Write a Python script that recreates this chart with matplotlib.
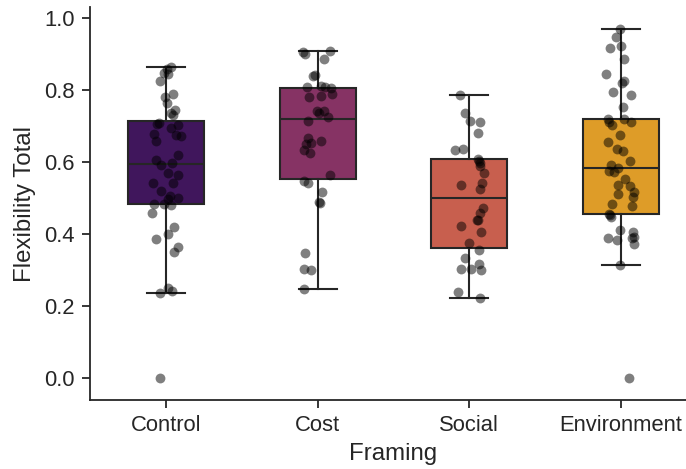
import colorsys
import numpy as np
import matplotlib
matplotlib.use("Agg")
import matplotlib.pyplot as plt

categories = ["Control", "Cost", "Social", "Environment"]

control_vals = [0.863, 0.857, 0.846, 0.844, 0.825, 0.781, 0.789, 0.763, 0.744, 0.62,
                0.735, 0.730, 0.709, 0.706, 0.694, 0.703, 0.678, 0.657, 0.675, 0.672,
                0.605, 0.598, 0.592, 0.569, 0.564, 0.541, 0.541, 0.521, 0.506, 0.500,
                0.497, 0.484, 0.481, 0.484, 0.458, 0.419, 0.401, 0.387, 0.364, 0.350,
                0.238, 0.250, 0.241, 0.0]
control_dx = [0.031, 0.009, -0.011, 0.015, -0.042, -0.007, 0.048, 0.007, 0.059, 0.077,
              0.037, 0.048, -0.046, -0.059, 0.033, 0.077, -0.079, -0.066, 0.070, 0.099,
              -0.068, 0.042, -0.031, 0.015, 0.081, -0.088, 0.048, -0.029, 0.026, 0.081,
              0.015, -0.079, 0.031, -0.015, -0.090, 0.055, 0.011, -0.066, 0.081, 0.051,
              -0.037, 0.011, 0.042, -0.040]

cost_vals = [0.904, 0.899, 0.909, 0.886, 0.839, 0.842, 0.809, 0.812, 0.807, 0.805,
             0.789, 0.781, 0.782, 0.742, 0.742, 0.736, 0.724, 0.713, 0.667, 0.652,
             0.650, 0.657, 0.632, 0.624, 0.565, 0.548, 0.541, 0.518, 0.489, 0.486,
             0.347, 0.303, 0.301, 0.248]
cost_dx = [-0.097, -0.084, 0.084, 0.040, -0.031, -0.018, -0.070, 0.024, 0.046, 0.090,
           0.097, -0.057, 0.024, -0.002, 0.040, 0.009, 0.068, -0.064, -0.066, -0.042,
           -0.079, 0.024, -0.092, -0.048, 0.079, -0.092, -0.064, 0.031, 0.009, 0.018,
           -0.081, -0.092, -0.042, -0.092]

social_vals = [0.785, 0.736, 0.713, 0.710, 0.681, 0.632, 0.637, 0.609, 0.603, 0.598,
               0.588, 0.570, 0.537, 0.542, 0.526, 0.473, 0.459, 0.438, 0.438, 0.422,
               0.405, 0.376, 0.355, 0.334, 0.318, 0.304, 0.304, 0.300, 0.240, 0.224]
social_dx = [-0.059, -0.031, 0.002, 0.073, 0.055, -0.092, -0.042, 0.057, 0.062, 0.068,
             0.073, 0.095, -0.055, 0.084, 0.073, 0.090, 0.068, 0.055, 0.050, -0.055,
             0.077, -0.004, 0.062, -0.026, 0.062, 0.011, -0.055, 0.077, -0.077, 0.073]

env_vals = [0.970, 0.947, 0.923, 0.916, 0.885, 0.845, 0.824, 0.820, 0.794, 0.787,
            0.753, 0.719, 0.711, 0.702, 0.720, 0.711, 0.674, 0.656, 0.637, 0.630,
            0.602, 0.593, 0.583, 0.574, 0.573, 0.554, 0.536, 0.534, 0.517, 0.512,
            0.503, 0.478, 0.485, 0.455, 0.453, 0.448, 0.411, 0.388, 0.383, 0.406,
            0.393, 0.388, 0.374, 0.315, 0.0]
env_dx = [-0.007, -0.035, 0.0, -0.073, 0.022, -0.101, 0.022, 0.009, -0.051, 0.066,
          0.015, -0.088, -0.079, -0.057, 0.022, 0.066, -0.007, -0.084, -0.029, 0.015,
          0.059, -0.066, -0.018, -0.079, -0.044, 0.026, -0.022, 0.059, 0.088, -0.018,
          0.081, 0.070, -0.057, -0.079, -0.073, -0.066, -0.007, -0.088, -0.029, 0.081,
          0.088, 0.070, 0.088, -0.007, 0.053]

values = [control_vals, cost_vals, social_vals, env_vals]
offsets = [control_dx, cost_dx, social_dx, env_dx]

def desaturate(c, prop):
    h, l, s = colorsys.rgb_to_hls(*c[:3])
    return colorsys.hls_to_rgb(h, l, s * prop)

cmap = matplotlib.colormaps["inferno"]
colors = [desaturate(cmap(p), 0.75) for p in np.linspace(0, 1, 6)[1:-1]]

plt.rcParams["font.family"] = ["Liberation Sans", "DejaVu Sans"]
edge = "#262626"
lw = 1.5

fig = plt.figure(figsize=(6.86, 4.69), dpi=100)
ax = fig.add_axes([90 / 686, 69 / 469, 607 / 686, 393 / 469])

pos = np.arange(len(categories))
bp = ax.boxplot(values, positions=pos, widths=0.5, patch_artist=True,
                showfliers=False, capwidths=0.25,
                boxprops=dict(edgecolor=edge, linewidth=lw),
                medianprops=dict(color=edge, linewidth=lw),
                whiskerprops=dict(color=edge, linewidth=lw),
                capprops=dict(color=edge, linewidth=lw),
                zorder=2)
for patch, c in zip(bp["boxes"], colors):
    patch.set_facecolor(c)

for i, (v, d) in enumerate(zip(values, offsets)):
    ax.scatter(i + np.array(d), v, s=50, color="black", alpha=0.5,
               linewidths=0, zorder=3)

ax.set_xlim(-0.5, 3.5)
ax.set_ylim(-0.06, 1.03)
ax.set_xticks(pos)
ax.set_xticklabels(categories)
ax.set_yticks([0.0, 0.2, 0.4, 0.6, 0.8, 1.0])
ax.set_yticklabels(["0.0", "0.2", "0.4", "0.6", "0.8", "1.0"])
ax.tick_params(labelsize=15.8, colors=edge, width=1.3, length=6, pad=5)
ax.set_xlabel("Framing", fontsize=17.3, color=edge, labelpad=5)
ax.set_ylabel("Flexibility Total", fontsize=17.3, color=edge, labelpad=6)
for s in ["top", "right"]:
    ax.spines[s].set_visible(False)
for s in ["left", "bottom"]:
    ax.spines[s].set_color(edge)
    ax.spines[s].set_linewidth(1.3)

fig.savefig("out.png", dpi=100)
